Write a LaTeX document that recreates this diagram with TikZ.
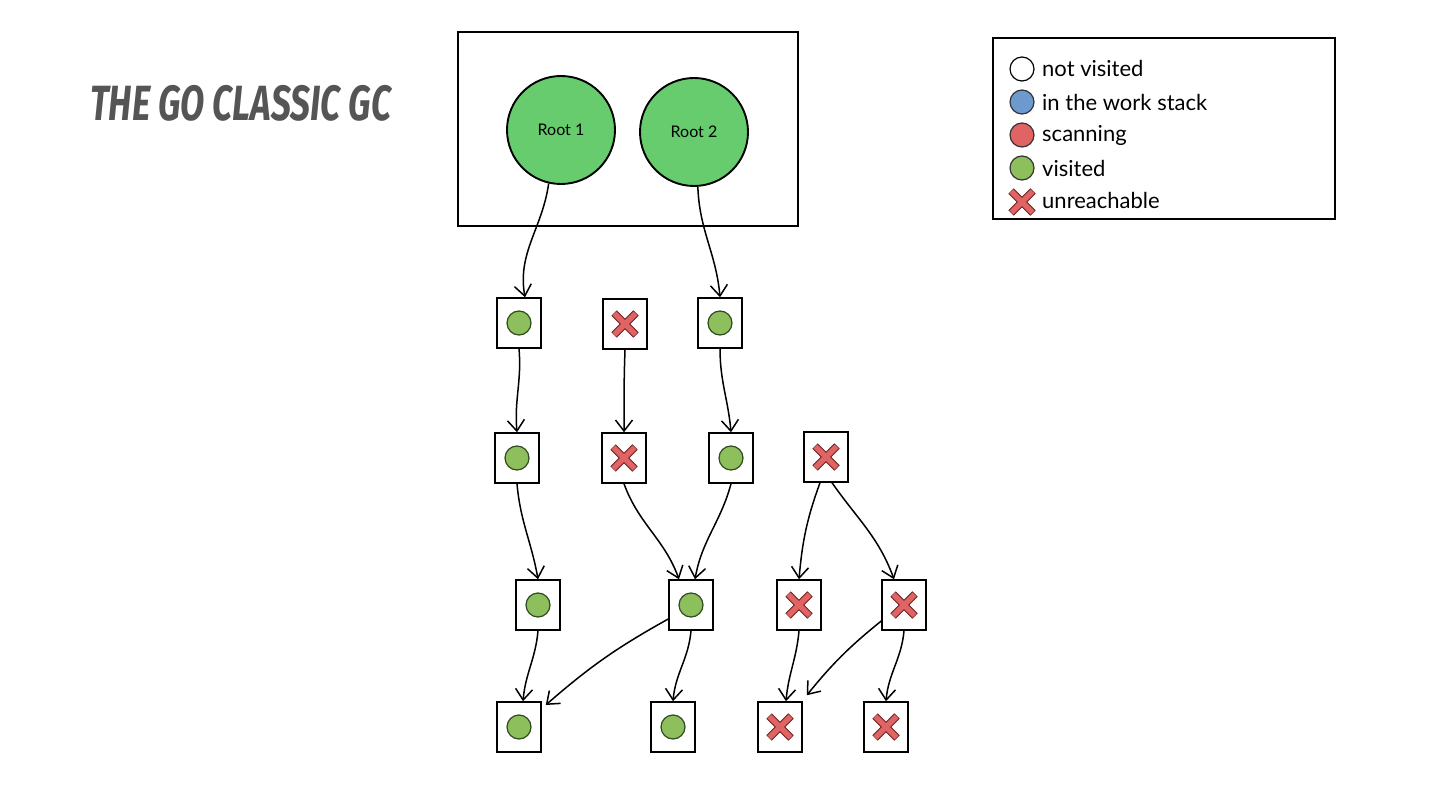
\documentclass[tikz,border=0pt]{standalone}
\usepackage{fontspec}
\setmainfont{Lato}
\newfontfamily\titlefont{Fira Sans}
\usetikzlibrary{arrows.meta,calc}
\definecolor{rootgreen}{HTML}{66CC6E}
\definecolor{dotgreen}{HTML}{8DBF5C}
\definecolor{dotline}{HTML}{2E4A1E}
\definecolor{xred}{HTML}{E06464}
\definecolor{xline}{HTML}{6A2020}
\definecolor{dotblue}{HTML}{6C9ACF}
\definecolor{titlegray}{HTML}{555555}
\tikzset{
  objbox/.style={draw=black, line width=1.5pt, minimum width=44pt, minimum height=50pt, inner sep=0pt, fill=white},
  edge/.style={draw=black, line width=1.5pt, -{Straight Barb[length=11pt,width=17pt,line width=1.5pt]}},
  rootc/.style={circle, draw=black, line width=1.9pt, fill=rootgreen, minimum size=108pt, inner sep=0pt, font=\fontsize{16}{16}\selectfont},
  legtext/.style={anchor=west, font=\fontsize{22}{22}\selectfont, inner sep=0pt},
  frame/.style={draw=black, line width=1.6pt},
}
\newcommand{\gdot}[1]{\fill[dotgreen] (#1) circle (12pt); \draw[dotline, line width=1.2pt] (#1) circle (12pt);}
\newcommand{\xmark}[1]{%
  \draw[xline, line width=7.5pt] ($(#1)+(-11,-11)$) -- ($(#1)+(11,11)$) ($(#1)+(-11,11)$) -- ($(#1)+(11,-11)$);
  \draw[xred, line width=5.5pt] ($(#1)+(-10.6,-10.6)$) -- ($(#1)+(10.6,10.6)$) ($(#1)+(-10.6,10.6)$) -- ($(#1)+(10.6,-10.6)$);}
\begin{document}
\begin{tikzpicture}[x=1pt,y=-1pt]
\useasboundingbox[fill=white] (0,0) rectangle (1440,810);

% title
\node[anchor=west, text=titlegray, inner sep=0pt] (title) at (90,103)
  {\scalebox{1.07}[1.5]{\titlefont\bfseries\itshape\fontsize{33}{33}\selectfont THE GO CLASSIC GC}};

% roots frame
\node[frame, minimum width=340pt, minimum height=194pt, inner sep=0pt] (rootframe) at (628,129) {};
\node[rootc] (r1) at (561,130) {Root 1};
\node[rootc] (r2) at (694,132) {Root 2};

% legend
\node[frame, minimum width=342pt, minimum height=181pt, inner sep=0pt] (legend) at (1164,128.5) {};
\draw[black, line width=1.2pt] (1022,69) circle (12pt);
\fill[dotblue] (1022,102) circle (12pt); \draw[black!80, line width=1.2pt] (1022,102) circle (12pt);
\fill[xred] (1022,135) circle (12pt); \draw[black!80, line width=1.2pt] (1022,135) circle (12pt);
\fill[dotgreen] (1022,168) circle (12pt); \draw[black!80, line width=1.2pt] (1022,168) circle (12pt);
\coordinate (lx) at (1022,202);
\xmark{lx}
\node[legtext] (l1) at (1042,68) {not visited};
\node[legtext] (l2) at (1042,102) {in the work stack};
\node[legtext] (l3) at (1042,135) {scanning};
\node[legtext] (l4) at (1042,168) {visited};
\node[legtext] (l5) at (1042,200) {unreachable};

% object nodes
\node[objbox] (a1) at (519,323) {};
\node[objbox] (a2) at (625,324) {};
\node[objbox] (a3) at (720,323) {};
\node[objbox] (b1) at (517,458) {};
\node[objbox] (b2) at (624,458) {};
\node[objbox] (b3) at (731,458) {};
\node[objbox] (b4) at (826,457) {};
\node[objbox] (c1) at (538,605) {};
\node[objbox] (c2) at (691,605) {};
\node[objbox] (c3) at (799,605) {};
\node[objbox] (c4) at (904,605) {};
\node[objbox] (d1) at (519,727) {};
\node[objbox] (d2) at (673,727) {};
\node[objbox] (d3) at (780,727) {};
\node[objbox] (d4) at (886,727) {};

\gdot{a1} \xmark{a2} \gdot{a3}
\gdot{b1} \xmark{b2} \gdot{b3} \xmark{b4}
\gdot{c1} \gdot{c2} \xmark{c3} \xmark{c4}
\gdot{d1} \gdot{d2} \xmark{d3} \xmark{d4}

% edges
\draw[edge] (r1.-103) to[out=-98, in=100] ($(a1.north)+(6,0)$);
\draw[edge] (r2.-86) to[out=-88, in=95] (a3.north);
\draw[edge] (a1.south) to[out=-85, in=95] (b1.north);
\draw[edge] (a2.south) to[out=-92, in=90] (b2.north);
\draw[edge] (a3.south) to[out=-90, in=95] (b3.north);
\draw[edge] (b1.south) to[out=-85, in=100] (c1.north);
\draw[edge] (b2.south) to[out=-70, in=110] ($(c2.north)+(-12,0)$);
\draw[edge] (b3.south) to[out=-105, in=80] ($(c2.north)+(4,0)$);
\draw[edge] ($(b4.south)+(-6,0)$) to[out=-110, in=85] (c3.north);
\draw[edge] ($(b4.south)+(6,0)$) to[out=-55, in=110] ($(c4.north)+(-10,0)$);
\draw[edge] (c1.south) to[out=-95, in=85] ($(d1.north)+(4,0)$);
\draw[edge] ($(c2.west)+(0,14)$) to[bend right=6] ($(d1.east)+(4,-22)$);
\draw[edge] (c2.south) to[out=-95, in=85] (d2.north);
\draw[edge] (c3.south) to[out=-95, in=85] ($(d3.north)+(6,0)$);
\draw[edge] ($(c4.west)+(0,16)$) to[bend right=6] ($(d3.north east)+(4,-6)$);
\draw[edge] (c4.south) to[out=-95, in=85] (d4.north);
\end{tikzpicture}
\end{document}
